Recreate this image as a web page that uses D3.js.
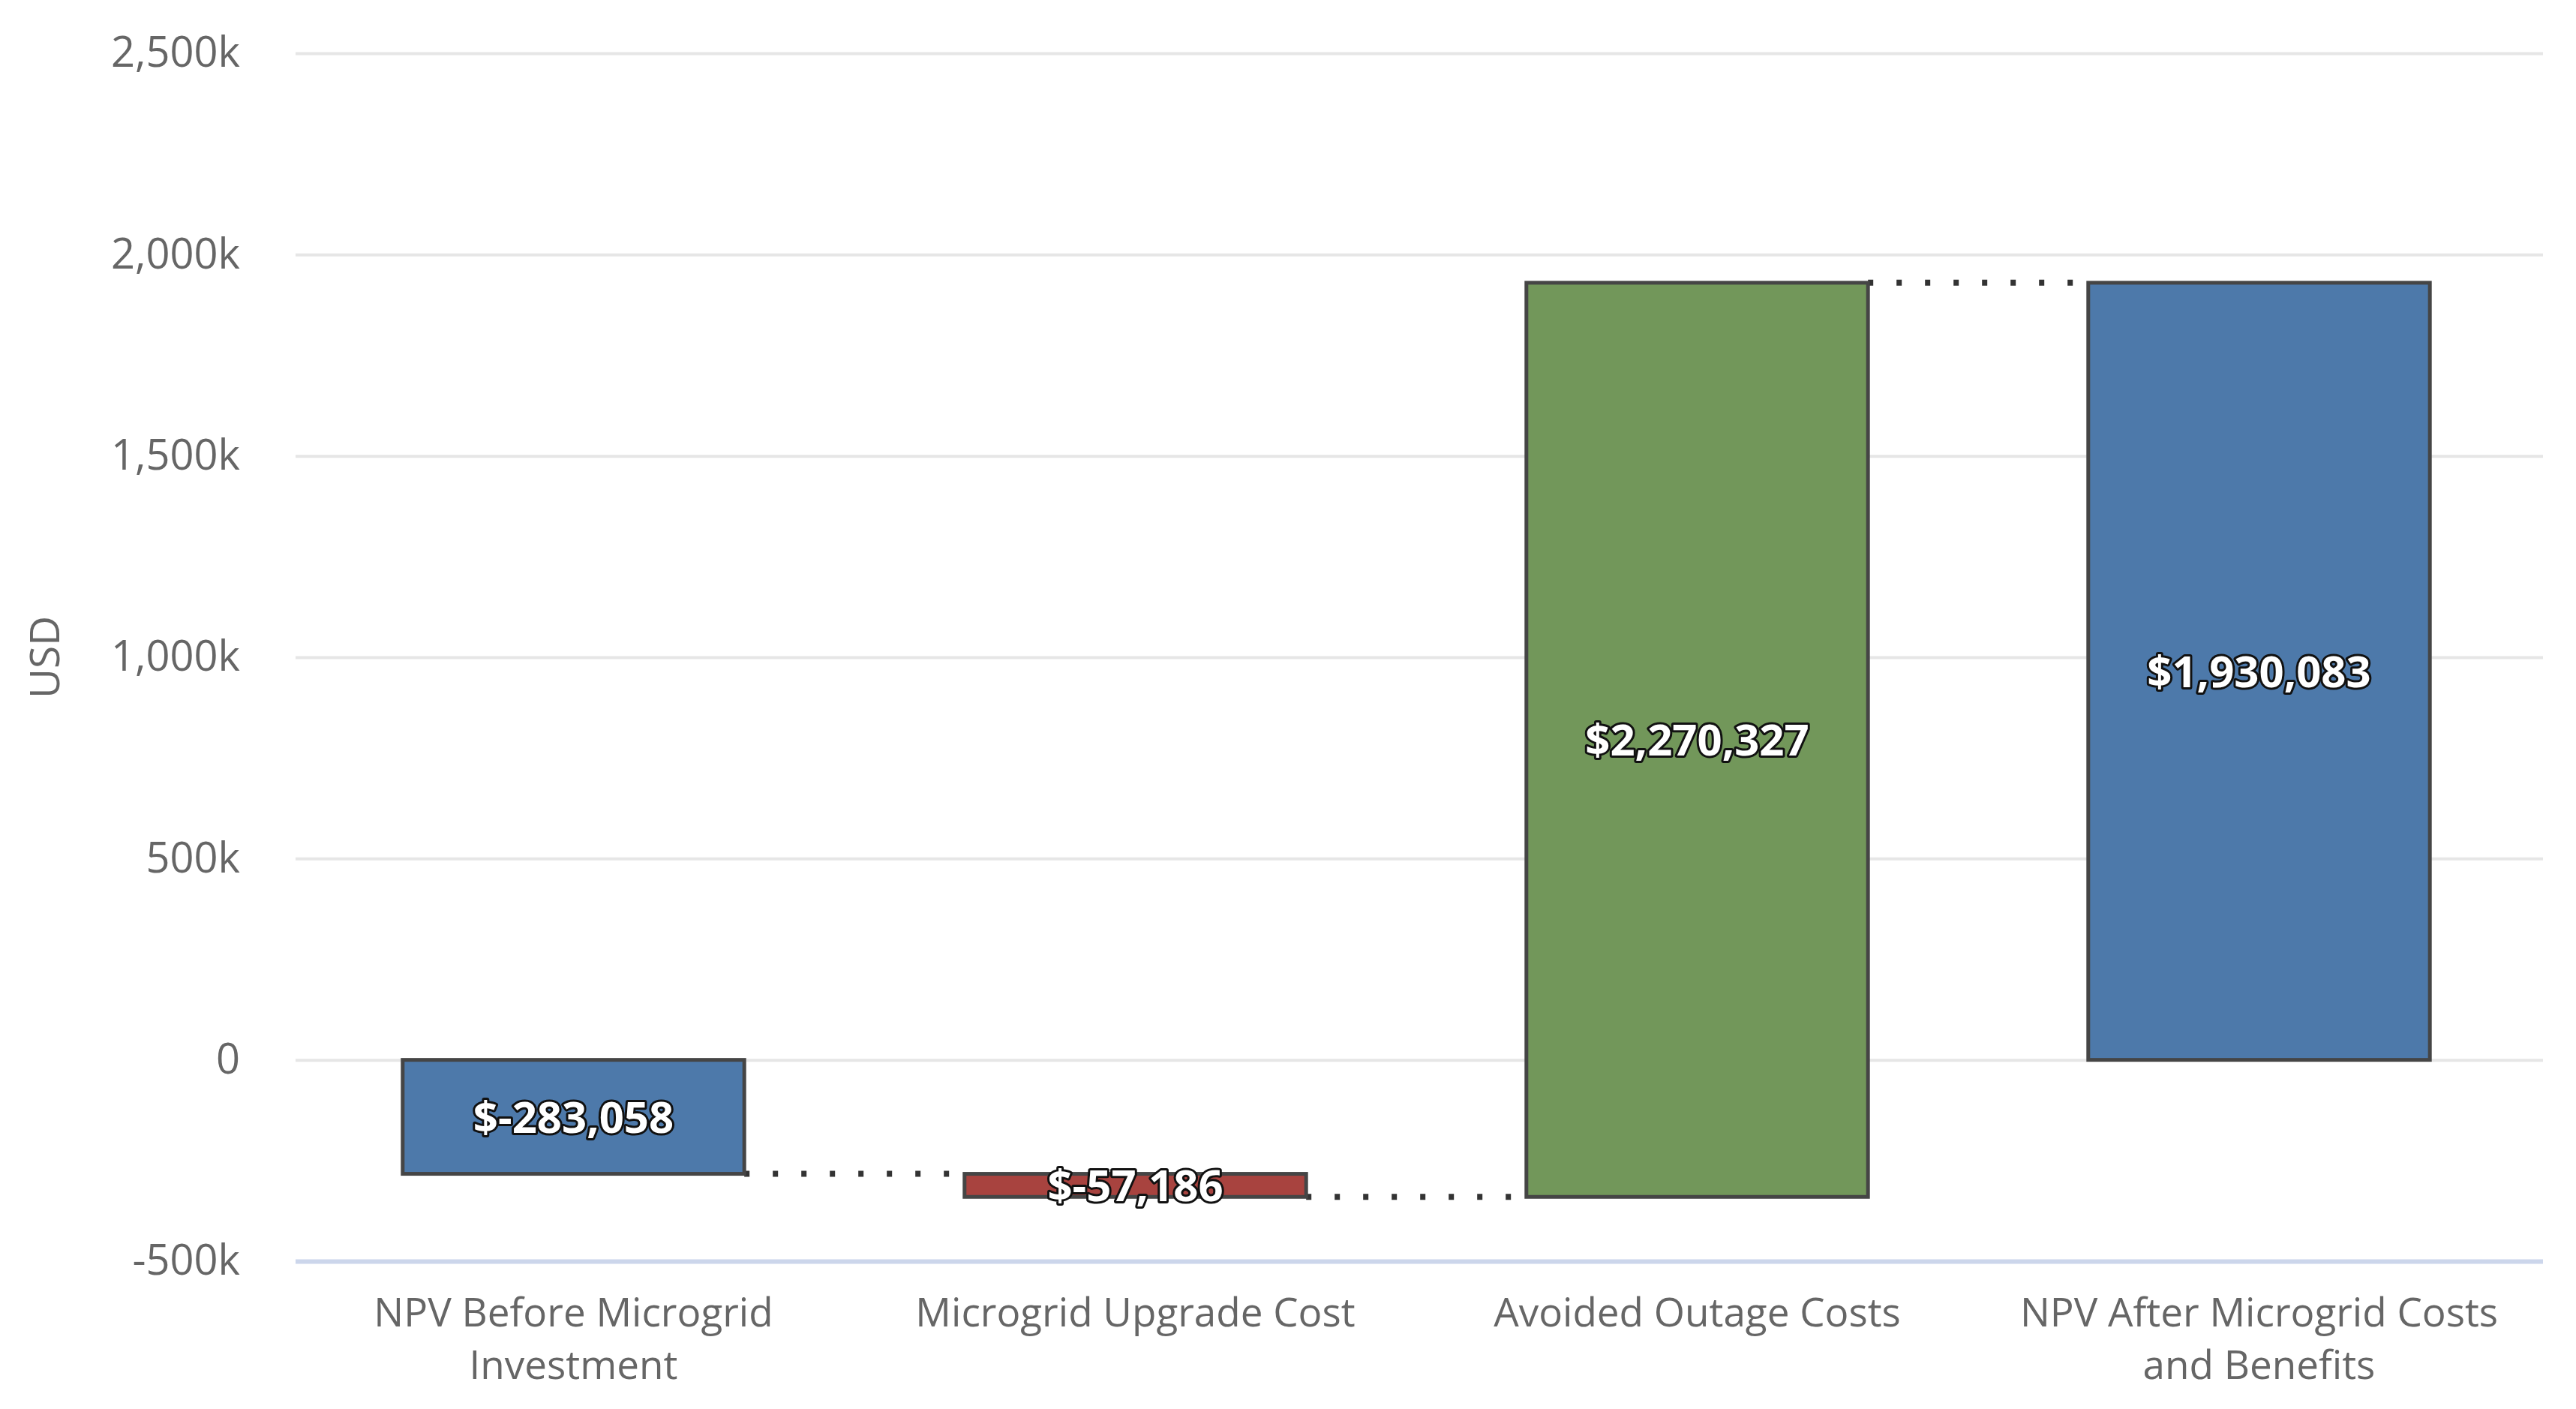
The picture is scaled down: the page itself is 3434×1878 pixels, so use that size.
<!DOCTYPE html>
<html lang="en">
<head>
    <meta charset="UTF-8">
    <title>NPV Waterfall</title>
    <style>
        body { margin: 0; background: #fff; }
        .grid line { stroke: #e6e6e6; stroke-width: 4px; }
        .axis text { font-family: "Open Sans", sans-serif; font-size: 56px; fill: #666; }
        .bar { stroke: #454545; stroke-width: 5px; }
        .connector { stroke: #333; stroke-width: 8px; stroke-dasharray: 7 31; }
        .value-label {
          font-family: "Open Sans", sans-serif; font-size: 58px; font-weight: bold;
          fill: #fff; stroke: #111; stroke-width: 6px; paint-order: stroke; stroke-linejoin: round;
        }
        .cat-label { font-family: "Open Sans", sans-serif; font-size: 53px; fill: #666; }
    </style>
</head>
<body>
    <svg width="3434" height="1878"></svg>
    <script src="https://d3js.org/d3.v7.min.js"></script>
    <script>
        // data
        const categories = ["NPV Before Microgrid Investment", "Microgrid Upgrade Cost",
                            "Avoided Outage Costs", "NPV After Microgrid Costs and Benefits"];
        const categoryLines = [["NPV Before Microgrid", "Investment"], ["Microgrid Upgrade Cost"],
                               ["Avoided Outage Costs"], ["NPV After Microgrid Costs", "and Benefits"]];
        const values = [-283058, -57186, 2270327, 1930083];
        const isTotal = [true, false, false, true];
        const barColors = ["#4d79aa", "#a8433f", "#72975a", "#4d79aa"];
        const yTicks = [-500000, 0, 500000, 1000000, 1500000, 2000000, 2500000];

        const svg = d3.select("svg"),
              width = +svg.attr("width"),
              height = +svg.attr("height");

        svg.append("rect").attr("width", width).attr("height", height).attr("fill", "#fff");

        const plotLeft = 394, plotRight = 3390, plotTop = 71, plotBottom = 1681;

        const x = d3.scaleBand()
            .domain(categories)
            .range([plotLeft - 4, plotRight - 4])
            .paddingInner(0.392)
            .paddingOuter(0.196);

        const y = d3.scaleLinear()
            .domain([-500000, 2500000])
            .range([plotBottom, plotTop]);

        const fmt = d3.formatLocale({ decimal: ".", thousands: ",", grouping: [3], currency: ["$", ""], minus: "-" });
        const comma = fmt.format(",");

        // y axis + gridlines
        const yAxis = svg.append("g")
            .attr("class", "axis grid")
            .attr("transform", "translate(" + plotLeft + ",0)")
            .call(d3.axisLeft(y)
                .tickValues(yTicks)
                .tickSize(-(plotRight - plotLeft))
                .tickPadding(74)
                .tickFormat(function(d) { return d === 0 ? "0" : comma(d / 1000) + "k"; }));
        yAxis.select(".domain").remove();
        yAxis.selectAll(".tick").filter(function(d) { return d === -500000; })
            .select("line").style("stroke", "#ccd6eb").style("stroke-width", "6px");

        svg.append("text")
            .attr("class", "cat-label")
            .style("font-size", "55px")
            .attr("transform", "translate(60," + ((plotTop + plotBottom) / 2) + ") rotate(-90)")
            .attr("text-anchor", "middle")
            .attr("dy", "0.35em")
            .text("USD");

        // waterfall ranges
        let running = 0;
        const bars = values.map(function(v, i) {
            let y0, y1;
            if (isTotal[i]) { y0 = 0; y1 = v; running = v; }
            else { y0 = running; y1 = running + v; running = y1; }
            return { cat: categories[i], value: v, y0: y0, y1: y1, end: y1, color: barColors[i] };
        });

        // dotted connectors
        svg.append("g").selectAll("line")
            .data(bars.slice(0, -1))
            .enter().append("line")
            .attr("class", "connector")
            .attr("x1", function(d) { return x(d.cat) + x.bandwidth(); })
            .attr("x2", function(d, i) { return x(bars[i + 1].cat); })
            .attr("y1", function(d) { return y(d.end); })
            .attr("y2", function(d) { return y(d.end); });

        svg.append("g").selectAll("rect")
            .data(bars)
            .enter().append("rect")
            .attr("class", "bar")
            .attr("x", function(d) { return x(d.cat); })
            .attr("width", x.bandwidth())
            .attr("y", function(d) { return y(Math.max(d.y0, d.y1)); })
            .attr("height", function(d) { return Math.abs(y(d.y0) - y(d.y1)); })
            .attr("fill", function(d) { return d.color; });

        svg.append("g").selectAll("text")
            .data(bars)
            .enter().append("text")
            .attr("class", "value-label")
            .attr("x", function(d) { return x(d.cat) + x.bandwidth() / 2; })
            .attr("y", function(d) { return (y(d.y0) + y(d.y1)) / 2; })
            .attr("text-anchor", "middle")
            .attr("dy", "0.36em")
            .text(function(d) { return "$" + comma(d.value); });

        // category labels
        const catG = svg.append("g").selectAll("text")
            .data(categories)
            .enter().append("text")
            .attr("class", "cat-label")
            .attr("text-anchor", "middle")
            .attr("x", function(d) { return x(d) + x.bandwidth() / 2; })
            .attr("y", 1768);
        catG.selectAll("tspan")
            .data(function(d, i) { return categoryLines[i]; })
            .enter().append("tspan")
            .attr("x", function() { return d3.select(this.parentNode).attr("x"); })
            .attr("dy", function(d, i) { return i === 0 ? 0 : 70; })
            .text(function(d) { return d; });
    </script>
</body>
</html>
